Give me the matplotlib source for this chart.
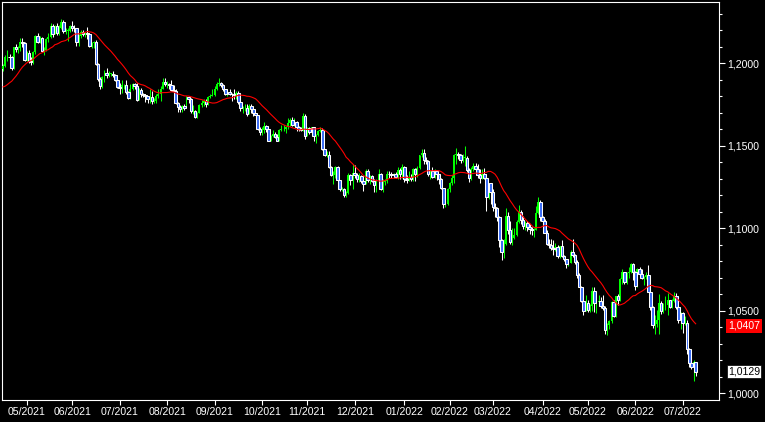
import matplotlib
matplotlib.use("Agg")
import matplotlib.pyplot as plt
from matplotlib.ticker import MultipleLocator, FuncFormatter
import numpy as np
import pandas as pd

# daily bars, prices in pips (1.0000 = 10000)
start_date = "2021-04-16"
first_open = 11965
# closes before the first bar, only used to warm up the moving average
prior_closes = [11935, 11850, 11815, 11780, 11795, 11765, 11730, 11730, 11780, 11760,
                11815, 11875, 11870, 11915, 11900, 11910, 11945, 11980, 11965]

closes = [
    # 04/2021
    11983, 12036, 12036, 12034, 11970, 12097, 12086, 12090, 12126, 12123, 12020,
    # 05/2021
    12062, 12015, 12005, 12065, 12165, 12130, 12150, 12075, 12080, 12145, 12155,
    12225, 12175, 12225, 12180, 12215, 12250, 12195, 12195, 12195, 12225,
    # 06/2021
    12215, 12210, 12125, 12165, 12190, 12175, 12180, 12175, 12105, 12120, 12125,
    11995, 11905, 11860, 11915, 11940, 11925, 11935, 11935, 11925, 11895, 11855,
    # 07/2021
    11850, 11865, 11865, 11825, 11790, 11845, 11875, 11860, 11775, 11835, 11810,
    11805, 11800, 11780, 11795, 11770, 11770, 11800, 11815, 11845, 11885, 11870,
    # 08/2021
    11870, 11865, 11835, 11830, 11760, 11735, 11720, 11740, 11730, 11795, 11780,
    11710, 11710, 11675, 11700, 11745, 11760, 11770, 11750, 11795, 11800, 11805,
    # 09/2021
    11840, 11875, 11880, 11865, 11840, 11815, 11825, 11815, 11810, 11805, 11820,
    11765, 11725, 11725, 11725, 11690, 11740, 11720, 11695, 11685, 11600, 11580,
    # 10/2021
    11595, 11620, 11600, 11530, 11555, 11570, 11550, 11530, 11595, 11600, 11600,
    11610, 11635, 11655, 11625, 11645, 11610, 11600, 11595, 11680, 11560,
    # 11/2021
    11605, 11580, 11610, 11555, 11565, 11590, 11595, 11480, 11445, 11445, 11370,
    11320, 11320, 11370, 11290, 11235, 11235, 11200, 11210, 11320, 11290, 11335,
    # 12/2021
    11320, 11300, 11315, 11285, 11265, 11345, 11290, 11315, 11285, 11260, 11290,
    11330, 11235, 11280, 11285, 11330, 11325, 11320, 11330, 11310, 11350, 11325, 11370,
    # 01/2022
    11295, 11290, 11310, 11295, 11360, 11330, 11365, 11440, 11455, 11410, 11405,
    11325, 11345, 11310, 11345, 11325, 11300, 11240, 11145, 11145, 11235,
    # 02/2022
    11270, 11305, 11440, 11450, 11440, 11415, 11425, 11425, 11350, 11305, 11360,
    11375, 11360, 11320, 11305, 11325, 11305, 11190, 11270, 11220,
    # 03/2022
    11125, 11120, 11065, 10930, 10855, 10905, 11075, 10985, 10915, 10940, 10955,
    11035, 11095, 11050, 11015, 11030, 11005, 10995, 10985, 10985, 11090, 11160, 11065,
    # 04/2022
    11045, 10970, 10905, 10900, 10880, 10875, 10885, 10830, 10890, 10830, 10810,
    10780, 10790, 10855, 10835, 10795, 10715, 10640, 10560, 10500, 10545,
    # 05/2022
    10505, 10525, 10620, 10545, 10550, 10560, 10530, 10515, 10380, 10410, 10435,
    10550, 10465, 10585, 10565, 10690, 10735, 10675, 10725, 10735, 10780, 10735,
    # 06/2022
    10650, 10750, 10720, 10695, 10705, 10715, 10615, 10520, 10410, 10420, 10445,
    10545, 10495, 10510, 10535, 10565, 10520, 10555, 10585, 10520, 10440, 10485,
    # 07/2022
    10425, 10425, 10265, 10180, 10160, 10185, 10129,
]

highs = [
    11995, 12048, 12080, 12052, 12045, 12100, 12117, 12105, 12150, 12150, 12130,
    12075, 12080, 12035, 12075, 12172, 12180, 12165, 12160, 12095, 12150, 12180,
    12245, 12235, 12230, 12245, 12230, 12265, 12262, 12212, 12210, 12233,
    12255, 12230, 12215, 12175, 12200, 12200, 12190, 12218, 12180, 12125, 12135,
    12140, 12000, 11915, 11920, 11955, 11970, 11950, 11940, 11950, 11935, 11900,
    11880, 11895, 11875, 11895, 11830, 11870, 11880, 11880, 11880, 11850, 11850,
    11820, 11815, 11800, 11840, 11830, 11790, 11815, 11840, 11860, 11910, 11910,
    11890, 11880, 11900, 11865, 11840, 11765, 11745, 11745, 11750, 11800, 11800,
    11785, 11745, 11715, 11705, 11750, 11775, 11780, 11780, 11800, 11810, 11845,
    11860, 11885, 11910, 11885, 11870, 11845, 11845, 11845, 11820, 11845, 11830,
    11830, 11775, 11740, 11750, 11750, 11750, 11750, 11720, 11700, 11685, 11610,
    11610, 11640, 11625, 11605, 11565, 11595, 11580, 11570, 11600, 11625, 11625,
    11620, 11665, 11665, 11670, 11665, 11650, 11620, 11610, 11695, 11690,
    11615, 11615, 11615, 11615, 11570, 11595, 11610, 11605, 11480, 11465, 11465,
    11375, 11345, 11375, 11375, 11290, 11250, 11245, 11225, 11335, 11330, 11385,
    11380, 11335, 11335, 11320, 11290, 11355, 11355, 11320, 11320, 11300, 11300,
    11360, 11335, 11300, 11300, 11345, 11345, 11340, 11335, 11340, 11370, 11365, 11385,
    11375, 11320, 11345, 11330, 11365, 11365, 11375, 11445, 11480, 11480, 11430,
    11410, 11350, 11370, 11360, 11350, 11330, 11305, 11245, 11175, 11245,
    11280, 11320, 11450, 11485, 11460, 11450, 11450, 11495, 11435, 11365, 11370,
    11395, 11395, 11390, 11360, 11355, 11365, 11325, 11275, 11275,
    11235, 11150, 11130, 11070, 10935, 10935, 11120, 11100, 11040, 11000, 11000,
    11050, 11140, 11110, 11070, 11045, 11040, 11025, 11005, 11000, 11135, 11185, 11170,
    11075, 11055, 10990, 10935, 10935, 10925, 10910, 10895, 10890, 10925, 10835,
    10815, 10815, 10865, 10935, 10845, 10805, 10725, 10650, 10595, 10595,
    10565, 10540, 10640, 10640, 10590, 10595, 10580, 10595, 10525, 10425, 10445,
    10560, 10565, 10590, 10600, 10695, 10750, 10735, 10735, 10765, 10785, 10785,
    10740, 10755, 10765, 10750, 10710, 10735, 10775, 10620, 10525, 10470, 10505,
    10600, 10560, 10545, 10585, 10605, 10565, 10570, 10615, 10605, 10525, 10490,
    10490, 10465, 10445, 10275, 10220, 10200, 10190,
]

lows = [
    11950, 11975, 12010, 12005, 11955, 11965, 12065, 12060, 12075, 12100, 12015,
    12010, 12000, 11985, 11995, 12055, 12120, 12120, 12070, 12050, 12075, 12130,
    12150, 12160, 12175, 12170, 12170, 12205, 12180, 12175, 12135, 12190,
    12195, 12185, 12105, 12105, 12150, 12165, 12160, 12145, 12095, 12090, 12090,
    11985, 11890, 11845, 11850, 11885, 11910, 11915, 11920, 11915, 11890, 11850,
    11810, 11820, 11845, 11810, 11780, 11780, 11835, 11845, 11770, 11775, 11795,
    11795, 11765, 11755, 11755, 11750, 11755, 11760, 11790, 11770, 11840, 11860,
    11850, 11845, 11830, 11820, 11750, 11705, 11705, 11705, 11715, 11730, 11760,
    11700, 11690, 11665, 11665, 11695, 11735, 11740, 11735, 11745, 11785, 11800,
    11800, 11835, 11860, 11855, 11830, 11805, 11800, 11805, 11770, 11780, 11780,
    11750, 11710, 11700, 11710, 11680, 11690, 11700, 11680, 11665, 11595, 11565,
    11565, 11575, 11580, 11525, 11525, 11550, 11545, 11525, 11525, 11590, 11585,
    11575, 11600, 11620, 11620, 11620, 11590, 11585, 11585, 11585, 11540,
    11555, 11570, 11565, 11530, 11515, 11555, 11580, 11475, 11435, 11430, 11365,
    11315, 11265, 11305, 11250, 11225, 11225, 11185, 11190, 11205, 11260, 11235,
    11305, 11280, 11280, 11275, 11225, 11265, 11280, 11265, 11280, 11220, 11220,
    11285, 11230, 11220, 11260, 11270, 11305, 11305, 11305, 11305, 11300, 11300, 11305,
    11280, 11270, 11285, 11285, 11285, 11285, 11310, 11360, 11430, 11390, 11385,
    11315, 11300, 11305, 11305, 11290, 11265, 11235, 11120, 11125, 11140,
    11220, 11260, 11270, 11390, 11420, 11395, 11400, 11375, 11340, 11280, 11290,
    11345, 11350, 11305, 11275, 11300, 11300, 11105, 11175, 11145,
    11105, 11065, 11045, 10885, 10805, 10820, 10900, 10965, 10905, 10900, 10935,
    10950, 11030, 11025, 10995, 10985, 10980, 10965, 10960, 10945, 10985, 11085, 11045,
    11020, 10970, 10900, 10880, 10865, 10835, 10860, 10820, 10820, 10825, 10800,
    10755, 10770, 10785, 10825, 10780, 10695, 10640, 10550, 10470, 10495,
    10490, 10490, 10495, 10490, 10485, 10530, 10515, 10505, 10355, 10350, 10390,
    10425, 10460, 10460, 10535, 10560, 10660, 10660, 10660, 10700, 10725, 10685,
    10625, 10640, 10705, 10690, 10655, 10690, 10610, 10505, 10395, 10360, 10400,
    10360, 10480, 10485, 10505, 10470, 10515, 10515, 10550, 10510, 10425, 10385,
    10365, 10415, 10235, 10160, 10145, 10070, 10105,
]

ma_period = 20
ma_last_label = 1.0407

assert len(closes) == len(highs) == len(lows)

c = np.array(closes) / 10000
o = np.array([first_open] + closes[:-1]) / 10000
h = np.maximum(np.array(highs) / 10000, np.maximum(o, c))
l = np.minimum(np.array(lows) / 10000, np.minimum(o, c))
idx = np.arange(len(c))

ma = pd.Series(prior_closes + closes).rolling(ma_period).mean().to_numpy()[len(prior_closes):] / 10000

dates = pd.bdate_range(start_date, periods=len(c))
months = dates.to_period("M")
month_starts = np.flatnonzero(months[1:] != months[:-1]) + 1
month_labels = [d.strftime("%m/%Y") for d in dates[month_starts]]

plt.rcParams["font.family"] = ["Liberation Sans", "DejaVu Sans"]

W, H = 765, 422
fig = plt.figure(figsize=(W / 100, H / 100), dpi=100, facecolor="black")
ax = fig.add_axes([2 / W, 22 / H, 717 / W, 398 / H], facecolor="black")

up = c >= o
down = ~up
body_lo = np.minimum(o, c)
body_h = np.maximum(np.abs(c - o), 0.0003)

# wicks
ax.vlines(idx[up], l[up], h[up], color="#00ff00", linewidth=0.75, zorder=2)
ax.vlines(idx[down], l[down], h[down], color="white", linewidth=0.75, zorder=2)
# bodies
ax.bar(idx[up], body_h[up], bottom=body_lo[up], width=0.9,
       color="#00ff00", linewidth=0, zorder=3)
ax.bar(idx[down], body_h[down], bottom=body_lo[down], width=1.2,
       facecolor="#3a6cf5", edgecolor="white", linewidth=0.75, zorder=3)

ax.plot(idx, ma, color="#ff0000", linewidth=0.8, zorder=4)

ax.set_xlim(-0.5, 331.8)
ax.set_ylim(0.99576, 1.23697)

for s in ax.spines.values():
    s.set_color("white")
    s.set_linewidth(0.8)

ax.yaxis.tick_right()
ax.yaxis.set_major_locator(MultipleLocator(0.05))
ax.yaxis.set_minor_locator(MultipleLocator(0.01))
ax.yaxis.set_major_formatter(FuncFormatter(lambda v, _: f"{v:.4f}".replace(".", ",")))
ax.tick_params(axis="y", which="major", colors="white", length=4.2, width=0.8,
               pad=1.5, labelsize=7.6)
ax.tick_params(axis="y", which="minor", colors="white", length=2.4, width=0.8)

ax.set_xticks(month_starts)
ax.set_xticklabels(month_labels)
ax.tick_params(axis="x", colors="white", length=3.8, width=0.8, pad=1.5, labelsize=7.6)

# last value boxes on the price scale
ytrans = ax.get_yaxis_transform()
ax.text(1.0125, ma_last_label, f"{ma_last_label:.4f}".replace(".", ","), transform=ytrans,
        ha="left", va="center", color="white", fontsize=7.6, clip_on=False, zorder=5,
        bbox=dict(boxstyle="square,pad=0.2", facecolor="#ff0000", edgecolor="none"))
ax.text(1.0125, c[-1], f"{c[-1]:.4f}".replace(".", ","), transform=ytrans,
        ha="left", va="center", color="black", fontsize=7.6, clip_on=False, zorder=5,
        bbox=dict(boxstyle="square,pad=0.12", facecolor="white", edgecolor="black",
                  linewidth=0.5))

fig.savefig("out.png", dpi=100, facecolor="black")
